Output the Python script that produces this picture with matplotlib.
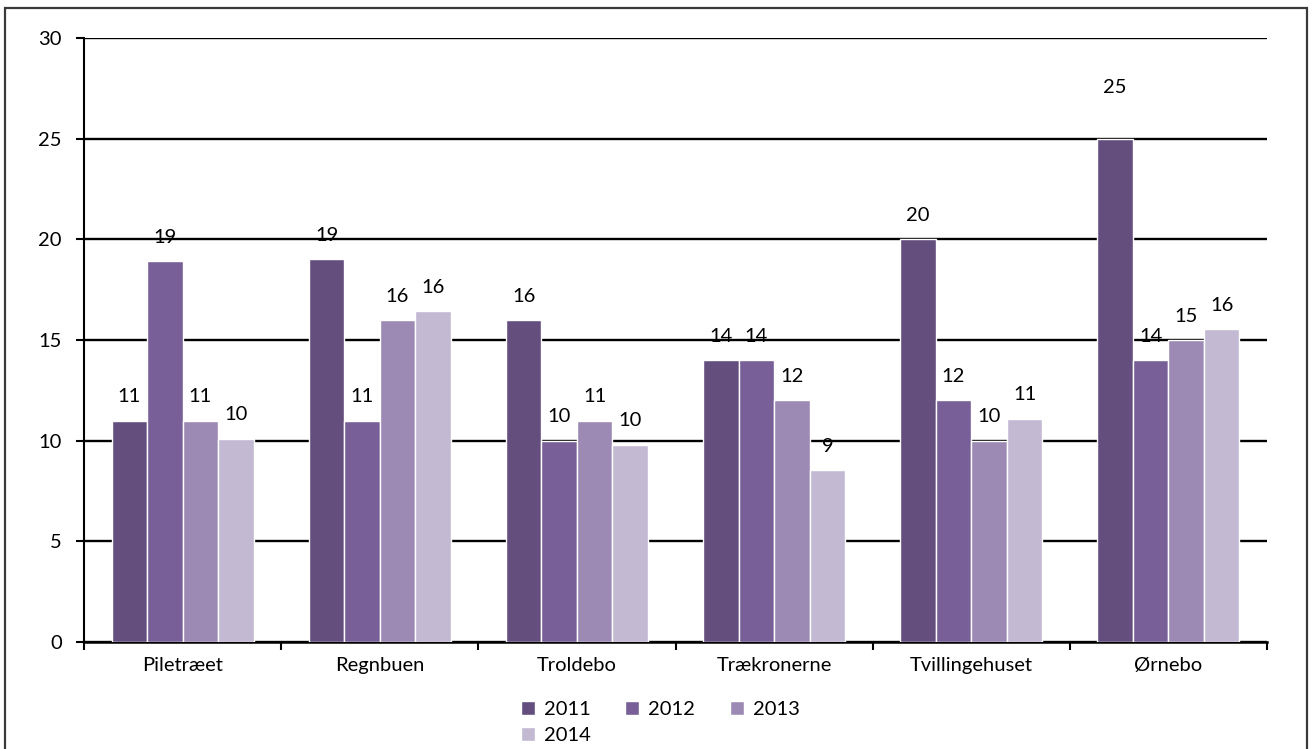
import matplotlib
matplotlib.use("Agg")
import matplotlib.pyplot as plt
from matplotlib.patches import Rectangle
import numpy as np

plt.rcParams['font.family'] = ['Lato', 'DejaVu Sans']

categories = ["Piletræet", "Regnbuen", "Troldebo", "Trækronerne", "Tvillingehuset", "Ørnebo"]
years = ["2011", "2012", "2013", "2014"]
v2011 = [11, 19, 16, 14, 20, 25]
v2012 = [18.9, 11, 10, 14, 12, 14]
v2013 = [11, 16, 11, 12, 10, 15.0]
v2014 = [10.1, 16.45, 9.8, 8.55, 11.1, 15.55]
series = [v2011, v2012, v2013, v2014]
colors = ["#634e7e", "#785f98", "#9d8ab4", "#c3b9d2"]
yticks = [0, 5, 10, 15, 20, 25, 30]

FS = 14.5

fig = plt.figure(figsize=(13.14, 7.49), dpi=100)
ax = fig.add_axes([84/1314, 1 - 642/749, (1267-84)/1314, (642-38)/749])

# frame around figure
fig.patches.append(Rectangle((5/1314, -0.02), 1302/1314, (749-8)/749 + 0.02,
                             transform=fig.transFigure, fill=False,
                             edgecolor="#3a3a3a", linewidth=1.6))

x = np.arange(len(categories))
w = 0.18
handles = []
for i, (vals, c, yr) in enumerate(zip(series, colors, years)):
    pos = x + (i - 1.5) * w
    bars = ax.bar(pos, vals, width=w, color=c, edgecolor="white", linewidth=1.0,
                  label=yr, zorder=3)
    handles.append(bars)
    for j, (p, v) in enumerate(zip(pos, vals)):
        extra = 20 if (categories[j] == "Ørnebo" and yr == "2011") else 0
        ax.annotate(f"{v:.0f}", (p, v), xytext=(0, 11 + extra), textcoords="offset points",
                    ha="center", va="bottom", fontsize=FS, color="black", zorder=4)

ax.set_xlim(-0.5, len(categories) - 0.5)
ax.set_ylim(0, 30)
ax.set_yticks(yticks)
ax.set_yticklabels([str(t) for t in yticks], fontsize=FS)
ax.yaxis.grid(True, color="black", linewidth=1.7, zorder=0)
ax.set_axisbelow(True)

ax.set_xticks(np.arange(-0.5, len(categories), 1.0))
ax.set_xticklabels([])
ax.set_xticks(x, minor=True)
ax.set_xticklabels(categories, minor=True, fontsize=FS)
ax.tick_params(axis="x", which="minor", length=0, pad=11)
ax.tick_params(axis="x", which="major", direction="out", length=6, width=1.5)
ax.tick_params(axis="y", direction="out", length=6, width=1.5, pad=10)

for s in ["top", "right"]:
    ax.spines[s].set_visible(False)
ax.spines["left"].set_linewidth(1.5)
ax.spines["bottom"].set_linewidth(1.8)

order = [0, 3, 1, 2]
leg = fig.legend([handles[k] for k in order], [years[k] for k in order],
                 loc="upper left", bbox_to_anchor=(521/1314, 1 - 701/749),
                 ncol=3, frameon=False, fontsize=FS, handlelength=0.7,
                 handleheight=0.7, handletextpad=0.45, columnspacing=1.7,
                 labelspacing=0.45, borderpad=0, borderaxespad=0)

fig.savefig("out.png", dpi=100)
